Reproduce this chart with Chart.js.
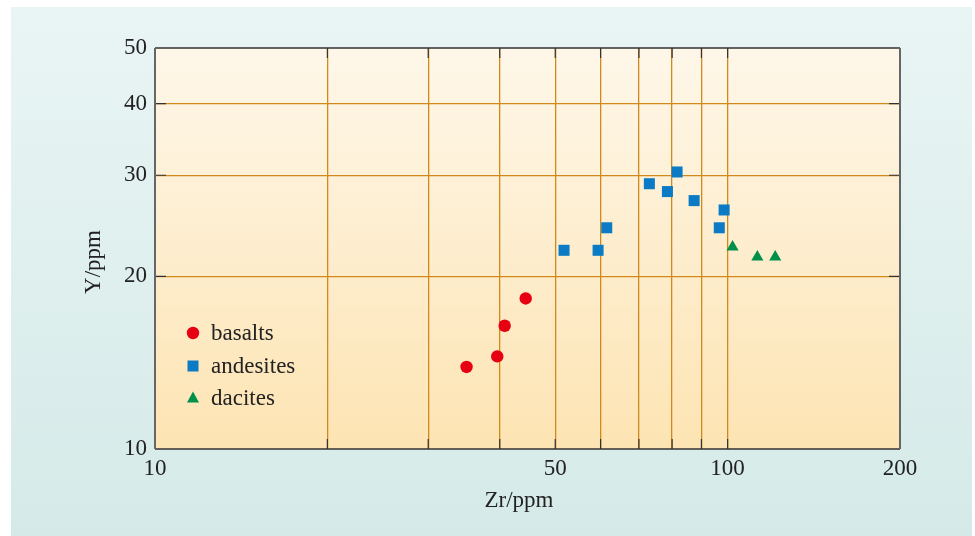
<!DOCTYPE html>
<html>
<head>
<meta charset="utf-8">
<script src="https://cdn.jsdelivr.net/npm/chart.js@4.4.1/dist/chart.umd.min.js"></script>
<style>
  html, body { margin: 0; padding: 0; background: #fff; }
  #wrap { width: 975px; height: 536px; }
</style>
</head>
<body>
<div id="wrap"><canvas id="myChart" width="975" height="536"></canvas></div>
<script>
// Zr vs Y (ppm), log-log
const basaltsZr = [35, 39.6, 40.8, 44.4];
const basaltsY  = [13.9, 14.5, 16.4, 18.3];

const andesitesZr = [51.8, 59.4, 61.5, 73.0, 78.5, 81.6, 87.4, 98.6, 96.7];
const andesitesY  = [22.2, 22.2, 24.3, 29.0, 28.1, 30.4, 27.1, 26.1, 24.3];

const dacitesZr = [102, 112.7, 121.1];
const dacitesY  = [22.5, 21.6, 21.6];

const xTicks = [10, 20, 30, 40, 50, 60, 70, 80, 90, 100, 200];
const xLabels = [10, 50, 100, 200];
const yTicks = [10, 20, 30, 40, 50];

const seriesNames = ['basalts', 'andesites', 'dacites'];

function pts(xs, ys) {
  var ans = [];
  for (let i = 0; i < xs.length; i++) ans.push({x: xs[i], y: ys[i]});
  return ans;
}

const serif = "'Liberation Serif', 'DejaVu Serif', serif";
const gridCol = '#d2891c';
const inkCol = '#222';

// backgrounds, inner tick marks, axis titles and legend
const decor = {
  id: 'decor',
  beforeDraw(chart) {
    const ctx = chart.ctx;
    const a = chart.chartArea;
    ctx.save();
    let g = ctx.createLinearGradient(0, 7, 0, 536);
    g.addColorStop(0, '#e9f5f4');
    g.addColorStop(1, '#d5eae8');
    ctx.fillStyle = g;
    ctx.fillRect(11, 7, 961, 529);
    g = ctx.createLinearGradient(0, a.top, 0, a.bottom);
    g.addColorStop(0, '#fef7e9');
    g.addColorStop(1, '#fde4b3');
    ctx.fillStyle = g;
    ctx.fillRect(a.left, a.top, a.right - a.left, a.bottom - a.top);
    ctx.restore();
  },
  afterDraw(chart) {
    const ctx = chart.ctx;
    const a = chart.chartArea;
    const xs = chart.scales.x, ys = chart.scales.y;
    ctx.save();
    ctx.strokeStyle = '#333';
    ctx.lineWidth = 1.2;
    ctx.beginPath();
    xTicks.forEach(v => {
      if (v === 10 || v === 200) return;
      const px = xs.getPixelForValue(v);
      ctx.moveTo(px, a.top); ctx.lineTo(px, a.top + 10);
      ctx.moveTo(px, a.bottom); ctx.lineTo(px, a.bottom - 10);
    });
    yTicks.forEach(v => {
      if (v === 10 || v === 50) return;
      const py = ys.getPixelForValue(v);
      ctx.moveTo(a.left, py); ctx.lineTo(a.left + 11, py);
      ctx.moveTo(a.right, py); ctx.lineTo(a.right - 11, py);
    });
    ctx.stroke();

    // frame
    ctx.strokeStyle = '#333';
    ctx.lineWidth = 1.5;
    ctx.beginPath();
    ctx.moveTo(a.left, a.top); ctx.lineTo(a.right, a.top);
    ctx.moveTo(a.left, a.bottom); ctx.lineTo(a.right, a.bottom);
    ctx.stroke();
    ctx.strokeStyle = '#666';
    ctx.lineWidth = 2;
    ctx.beginPath();
    ctx.moveTo(a.left, a.top); ctx.lineTo(a.left, a.bottom);
    ctx.moveTo(a.right, a.top); ctx.lineTo(a.right, a.bottom);
    ctx.stroke();

    // axis titles
    ctx.fillStyle = inkCol;
    ctx.font = '23px ' + serif;
    ctx.textAlign = 'center';
    ctx.textBaseline = 'middle';
    ctx.fillText('Zr/ppm', 519, 501);
    ctx.translate(94, 262);
    ctx.rotate(-Math.PI / 2);
    ctx.fillText('Y/ppm', 0, 0);
    ctx.setTransform(1, 0, 0, 1, 0, 0);

    // legend
    const ds = chart.data.datasets;
    const rows = [333, 366, 398];
    ds.forEach((d, i) => {
      const cx = 193, cy = rows[i];
      ctx.fillStyle = d.backgroundColor;
      ctx.beginPath();
      if (d.pointStyle === 'circle') {
        ctx.arc(cx, cy, 6.2, 0, Math.PI * 2);
      } else if (d.pointStyle === 'rect') {
        ctx.rect(cx - 5.5, cy - 5.5, 11, 11);
      } else {
        ctx.moveTo(cx, cy - 6.5);
        ctx.lineTo(cx + 6, cy + 4.5);
        ctx.lineTo(cx - 6, cy + 4.5);
        ctx.closePath();
      }
      ctx.fill();
      ctx.fillStyle = inkCol;
      ctx.font = '23px ' + serif;
      ctx.textAlign = 'left';
      ctx.fillText(d.label, 211, cy + 1);
    });
    ctx.restore();
  }
};

new Chart('myChart', {
  type: 'scatter',
  data: {
    datasets: [{
      label: seriesNames[0],
      data: pts(basaltsZr, basaltsY),
      pointStyle: 'circle',
      pointRadius: 6.2,
      backgroundColor: '#e60012',
      borderWidth: 0
    }, {
      label: seriesNames[1],
      data: pts(andesitesZr, andesitesY),
      pointStyle: 'rect',
      pointRadius: 7.8,
      backgroundColor: '#0a7bc4',
      borderWidth: 0
    }, {
      label: seriesNames[2],
      data: pts(dacitesZr, dacitesY),
      pointStyle: 'triangle',
      pointRadius: 7,
      backgroundColor: '#00904a',
      borderWidth: 0
    }]
  },
  options: {
    responsive: false,
    animation: false,
    layout: { padding: { left: 0, top: 48, right: 75, bottom: 0 } },
    plugins: {
      legend: { display: false },
      tooltip: { enabled: false }
    },
    scales: {
      x: {
        type: 'logarithmic',
        min: 10,
        max: 200,
        afterBuildTicks: s => { s.ticks = xTicks.map(v => ({value: v})); },
        afterFit: s => { s.height = 87; },
        border: { display: false },
        grid: {
          color: c => (c.tick && (c.tick.value === 10 || c.tick.value === 200)) ? 'transparent' : gridCol,
          lineWidth: 1.3,
          drawTicks: false
        },
        ticks: {
          autoSkip: false,
          maxRotation: 0,
          padding: 6,
          color: inkCol,
          font: { family: serif, size: 23 },
          callback: v => xLabels.includes(v) ? String(v) : ''
        }
      },
      y: {
        type: 'logarithmic',
        min: 10,
        max: 50,
        afterBuildTicks: s => { s.ticks = yTicks.map(v => ({value: v})); },
        afterFit: s => { s.width = 155; },
        border: { display: false },
        grid: {
          color: c => (c.tick && (c.tick.value === 10 || c.tick.value === 50)) ? 'transparent' : gridCol,
          lineWidth: 1.3,
          drawTicks: false
        },
        ticks: {
          autoSkip: false,
          padding: 8,
          color: inkCol,
          font: { family: serif, size: 23 },
          callback: v => yTicks.includes(v) ? String(v) : ''
        }
      }
    }
  },
  plugins: [decor]
});
</script>
</body>
</html>
